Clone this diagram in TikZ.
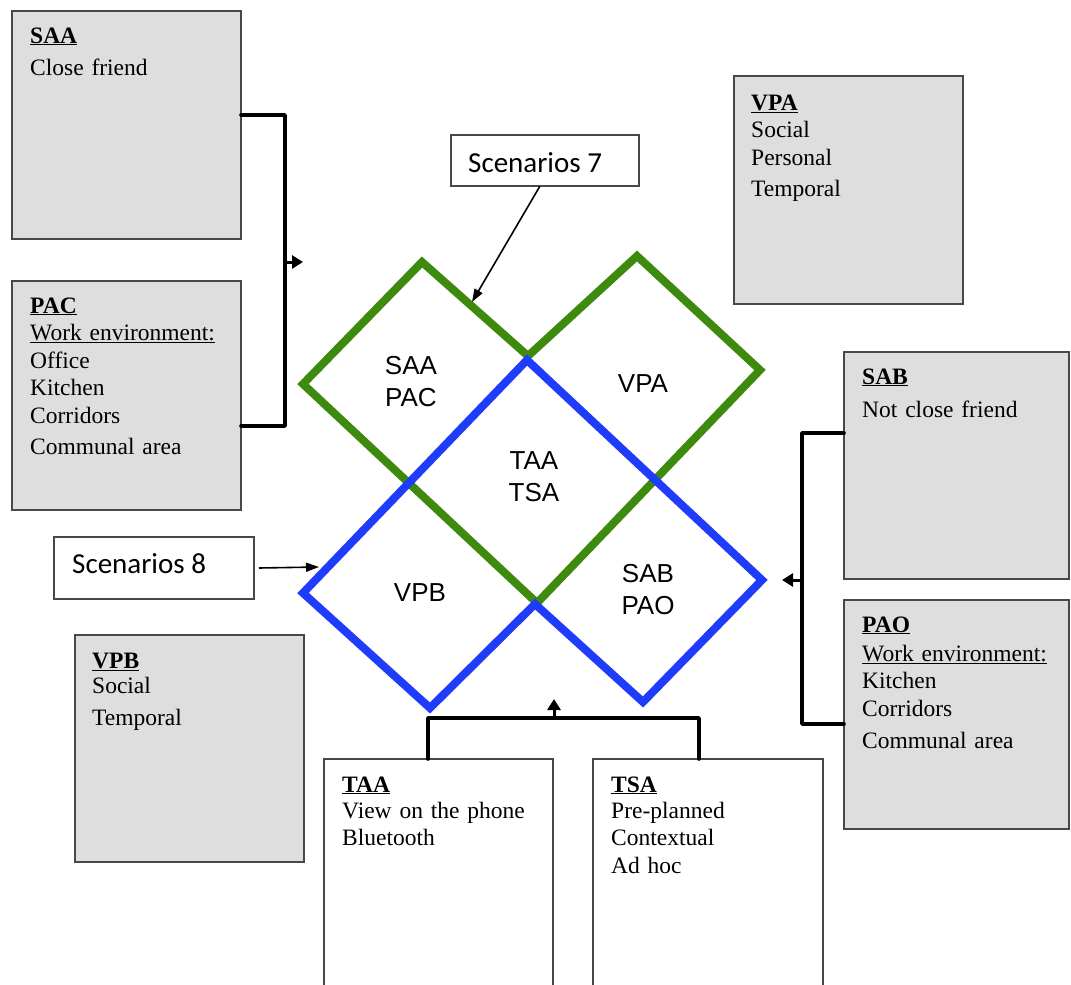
\documentclass[tikz,border=0pt]{standalone}
\usepackage{fontspec}
\setmainfont{Liberation Serif}
\newfontfamily\zonefont{Liberation Sans}
\newfontfamily\tagfont{Carlito}
\usetikzlibrary{arrows.meta,calc}
\definecolor{boxgray}{RGB}{222,222,222}
\definecolor{framegray}{RGB}{72,72,72}
\definecolor{zonegreen}{RGB}{62,138,14}
\definecolor{zoneblue}{RGB}{30,60,250}
\tikzset{
  infobox/.style={draw=framegray, line width=1.8pt, fill=boxgray, anchor=north west, inner sep=0pt, outer sep=0pt},
  plainbox/.style={draw=framegray, line width=1.6pt, fill=white, anchor=north west, inner sep=0pt, outer sep=0pt},
  boxtext/.style={anchor=base west, inner sep=0pt, text width=225pt, align=left, font=\fontsize{23.5}{27.5}\selectfont},
  tagtext/.style={anchor=base west, inner sep=0pt, font=\tagfont\fontsize{29}{34}\selectfont},
  zonelabel/.style={align=center, inner sep=0pt, font=\zonefont\fontsize{26}{32}\selectfont},
  link/.style={line width=3.6pt, line join=round, line cap=round},
  linkarrow/.style={line width=3pt, -{Triangle[length=11pt,width=13pt]}},
  pointer/.style={line width=1.6pt, -{Triangle[length=13pt,width=9pt]}},
  greenzone/.style={draw=zonegreen, line width=8pt, line join=miter},
  bluezone/.style={draw=zoneblue, line width=8pt, line join=miter},
}
\newcommand{\hd}[1]{\textbf{\underline{#1}}}
\begin{document}
\begin{tikzpicture}[x=1pt,y=-1pt]
\useasboundingbox (0,0) rectangle (1071,985);
\clip (0,0) rectangle (1071,985);
\fill[white] (0,0) rectangle (1071,985);

% grey description boxes
\node[infobox, minimum width=229pt, minimum height=228pt] (saa) at (12,11) {};
\node[infobox, minimum width=229pt, minimum height=229pt] (pac) at (12,281) {};
\node[infobox, minimum width=229pt, minimum height=228pt] (vpa) at (734,76) {};
\node[infobox, minimum width=225pt, minimum height=227pt] (sab) at (844,352) {};
\node[infobox, minimum width=225pt, minimum height=229pt] (pao) at (844,600) {};
\node[infobox, minimum width=229pt, minimum height=227pt] (vpb) at (75,635) {};
% white boxes running off the bottom
\node[plainbox, minimum width=229pt, minimum height=260pt] (taa) at (324,759) {};
\node[plainbox, minimum width=230pt, minimum height=260pt] (tsa) at (593,759) {};
% scenario tags
\node[plainbox, minimum width=188pt, minimum height=51pt] (s7) at (451,135) {};
\node[plainbox, minimum width=200pt, minimum height=62pt] (s8) at (54,537) {};

% box texts
\node[boxtext] (saa-t) at (30,43) {\hd{SAA}\\[4.5pt]Close friend};
\node[boxtext] (pac-t) at (30,313) {\hd{PAC}\\\underline{Work environment:}\\Office\\Kitchen\\Corridors\\[4pt]Communal area};
\node[boxtext] (vpa-t) at (751,110) {\hd{VPA}\\Social\\Personal\\[3.5pt]Temporal};
\node[boxtext] (sab-t) at (862,384) {\hd{SAB}\\[5.5pt]Not close friend};
\node[boxtext] (pao-t) at (862,632) {\hd{PAO}\\[1.5pt]\underline{Work environment:}\\Kitchen\\Corridors\\[5pt]Communal area};
\node[boxtext] (vpb-t) at (92,668) {\hd{VPB}\\[-2.5pt]Social\\[4.5pt]Temporal};
\node[boxtext] (taa-t) at (342,792) {\hd{TAA}\\[-1.5pt]View on the phone\\Bluetooth};
\node[boxtext] (tsa-t) at (611,792) {\hd{TSA}\\[-1.5pt]Pre-planned\\Contextual\\Ad hoc};
\node[tagtext] (s7-t) at (468,172) {Scenarios 7};
\node[tagtext] (s8-t) at (72,573) {Scenarios 8};

% overlapping zones
\draw[greenzone] (303,384) -- (422,262) -- (528,356) -- (637,256) -- (760,370) -- (537,603) -- cycle;
\draw[bluezone] (527,360) -- (762,580) -- (643,702) -- (535,604) -- (430,708) -- (303,593) -- cycle;

% zone labels
\node[zonelabel] (z-saa) at (411,382) {SAA\\PAC};
\node[zonelabel] (z-vpa) at (643,384) {VPA};
\node[zonelabel] (z-taa) at (534,477) {TAA\\TSA};
\node[zonelabel] (z-vpb) at (420,593) {VPB};
\node[zonelabel] (z-sab) at (648,590) {SAB\\PAO};

% bracket junctions and arrow ends
\coordinate (lj) at (285,262);
\coordinate (ltip) at (303,262);
\coordinate (rj) at (802,580);
\coordinate (rtip) at (782,580);
\coordinate (bj) at (554,718);
\coordinate (btip) at (554,699);
\coordinate (s7tip) at (472,302);
\coordinate (s8tip) at (319,567);

% left bracket
\draw[link] ([yshift=10pt]saa.east) -| (lj) |- ([yshift=-30.5pt]pac.east);
\draw[linkarrow] (lj) -- (ltip);
% right bracket
\draw[link] ([yshift=32.5pt]sab.west) -| (rj) |- ([yshift=-9.5pt]pao.west);
\draw[linkarrow] (rj) -- (rtip);
% bottom bracket
\draw[link] ([xshift=-10.5pt]taa.north) |- (bj) -| ([xshift=-9pt]tsa.north);
\draw[linkarrow] (bj) -- (btip);
% scenario pointers
\draw[pointer] ([xshift=-5pt]s7.south) -- (s7tip);
\draw[pointer] ([xshift=5pt]s8.east) -- (s8tip);
\end{tikzpicture}
\end{document}
